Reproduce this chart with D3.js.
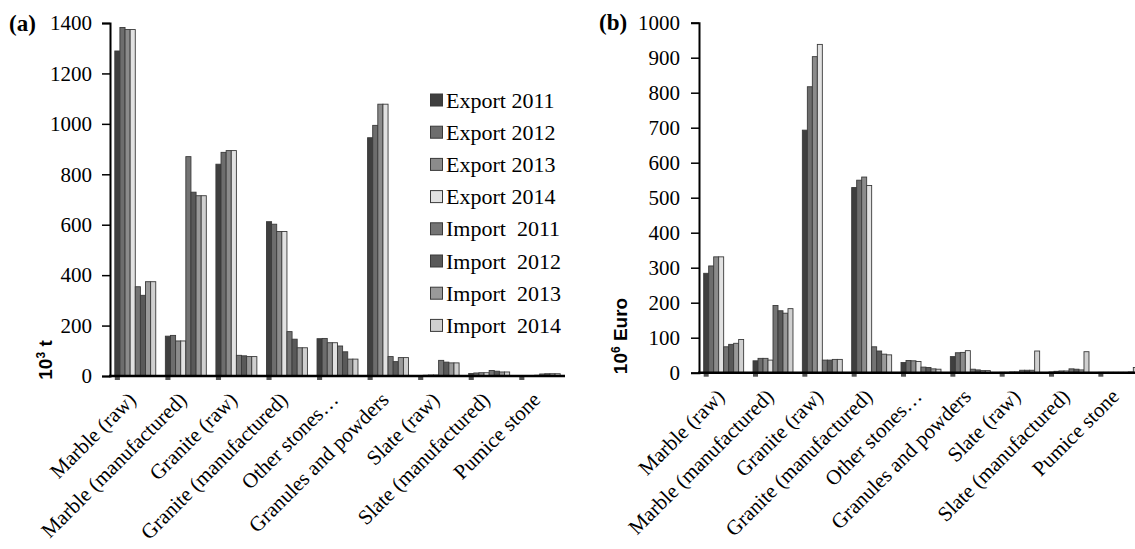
<!DOCTYPE html>
<html>
<head>
<meta charset="utf-8">
<script src="https://cdn.jsdelivr.net/npm/d3@7"></script>
<style>
  html, body { margin: 0; padding: 0; background: #fff; overflow: hidden; }
  text { font-family: "Liberation Serif", "Times New Roman", serif; fill: #000; }
</style>
</head>
<body>
<div id="container"></div>
<script>
const categories = ["Marble (raw)", "Marble (manufactured)", "Granite (raw)", "Granite (manufactured)",
    "Other stones…", "Granules and powders", "Slate (raw)", "Slate (manufactured)", "Pumice stone"];
const seriesNames = ["Export 2011", "Export 2012", "Export 2013", "Export 2014",
    "Import  2011", "Import  2012", "Import  2013", "Import  2014"];

// panel (a): 10^3 t
const export2011T = [1289, 158, 840, 612, 148, 945, 2, 10, 2];
const export2012T = [1382, 161, 887, 602, 149, 994, 3, 12, 2];
const export2013T = [1374, 139, 894, 573, 132, 1078, 4, 13, 2];
const export2014T = [1374, 139, 894, 573, 132, 1078, 4, 13, 3];
const import2011T = [354, 870, 82, 176, 119, 77, 62, 22, 8];
const import2012T = [320, 729, 80, 146, 96, 57, 55, 19, 9];
const import2013T = [374, 715, 77, 112, 67, 73, 52, 16, 9];
const import2014T = [374, 715, 77, 112, 67, 73, 52, 16, 9];
const ticksT = [0, 200, 400, 600, 800, 1000, 1200, 1400];

// panel (b): 10^6 Euro
const export2011E = [284, 34, 693, 529, 29, 46, 1, 2, 1];
const export2012E = [305, 41, 817, 550, 35, 57, 1, 4, 1];
const export2013E = [331, 41, 903, 559, 34, 58, 2, 5, 1];
const export2014E = [331, 36, 938, 535, 32, 63, 2, 5, 1];
const import2011E = [74, 192, 36, 74, 16, 10, 7, 11, 1];
const import2012E = [81, 177, 36, 62, 15, 8, 7, 10, 1];
const import2013E = [84, 170, 38, 53, 11, 6, 7, 8, 2];
const import2014E = [95, 183, 38, 51, 10, 6, 62, 60, 15];
const ticksE = [0, 100, 200, 300, 400, 500, 600, 700, 800, 900, 1000];

const fills = ["#3f3f3f", "#6d6d6d", "#8b8b8b", "#e2e2e2", "#747474", "#595959", "#999999", "#d0d0d0"];

const svg = d3.select("#container")
    .append("svg")
    .attr("width", 1135)
    .attr("height", 549);

const drawPanel = (opt) => {
    const g = svg.append("g");
    const x = d3.scaleBand().domain(categories).range([opt.left, opt.right])
        .paddingInner(0.19).paddingOuter(0.095);
    const xs = d3.scaleBand().domain(seriesNames).range([0, x.bandwidth()]);
    const y = d3.scaleLinear().domain([0, opt.max]).range([opt.bottom, opt.top]);

    // little dark marks below first bar
    g.selectAll(".foot").data(categories).enter()
        .append("rect")
        .attr("x", (d) => x(d))
        .attr("y", opt.bottom)
        .attr("width", xs.bandwidth())
        .attr("height", 4)
        .attr("fill", "#555");

    opt.data.forEach((vals, i) => {
        g.selectAll(".s" + i).data(vals).enter()
            .append("rect")
            .attr("x", (d, j) => x(categories[j]) + xs(seriesNames[i]))
            .attr("y", (d) => y(d))
            .attr("width", xs.bandwidth())
            .attr("height", (d) => opt.bottom - y(d))
            .attr("fill", fills[i])
            .attr("stroke", "#3a3a3a")
            .attr("stroke-width", 0.9);
    });

    const yAxis = d3.axisLeft(y).tickValues(opt.ticks).tickFormat(d3.format("d"))
        .tickSize(8).tickPadding(opt.pad);
    const ya = g.append("g").attr("transform", "translate(" + opt.left + ",0)").call(yAxis)
        .attr("font-family", "Liberation Serif").attr("font-size", 21);
    ya.select(".domain").attr("stroke", "#000").attr("stroke-width", 2);
    ya.selectAll(".tick line").attr("stroke", "#000").attr("stroke-width", 1.5);

    g.append("line")
        .attr("x1", opt.left - 1).attr("x2", opt.right)
        .attr("y1", opt.bottom).attr("y2", opt.bottom)
        .attr("stroke", "#000").attr("stroke-width", 2.5);

    g.selectAll(".cat").data(categories).enter()
        .append("text")
        .attr("transform", (d) => "translate(" + (x(d) + x.bandwidth() / 2 + 2) + "," + (opt.bottom + 25) + ") rotate(-45)")
        .attr("text-anchor", "end")
        .style("font-size", "21px")
        .text((d) => d);

    g.append("text")
        .attr("transform", "translate(" + opt.titleX + "," + opt.titleY + ") rotate(-90)")
        .attr("text-anchor", "middle")
        .style("font-family", "Liberation Sans")
        .style("font-weight", "bold")
        .style("font-size", "19px")
        .html(opt.title);

    g.append("text")
        .attr("x", opt.tagX).attr("y", opt.tagY)
        .style("font-weight", "bold")
        .style("font-size", "23px")
        .text(opt.tag);
};

drawPanel({
    left: 110, right: 565, top: 23, bottom: 376, max: 1400, ticks: ticksT, pad: 10,
    data: [export2011T, export2012T, export2013T, export2014T, import2011T, import2012T, import2013T, import2014T],
    title: '10<tspan baseline-shift="super" font-size="12px">3</tspan> t', titleX: 52, titleY: 360,
    tag: "(a)", tagX: 9, tagY: 31
});

drawPanel({
    left: 699, right: 1143, top: 22.7, bottom: 372.7, max: 1000, ticks: ticksE, pad: 11,
    data: [export2011E, export2012E, export2013E, export2014E, import2011E, import2012E, import2013E, import2014E],
    title: '10<tspan baseline-shift="super" font-size="12px">6</tspan> Euro', titleX: 627, titleY: 336,
    tag: "(b)", tagX: 599, tagY: 30
});

// legend
const legend = svg.append("g").attr("transform", "translate(430,100)");
const rows = legend.selectAll(".row").data(seriesNames).enter()
    .append("g")
    .attr("transform", (d, i) => "translate(0," + (i * 32.2) + ")");
rows.append("rect")
    .attr("x", 0.5).attr("y", -6)
    .attr("width", 12).attr("height", 12)
    .attr("fill", (d, i) => fills[i])
    .attr("stroke", "#3a3a3a").attr("stroke-width", 1);
rows.append("text")
    .attr("x", 16).attr("y", 7.5)
    .style("font-size", "22px")
    .style("white-space", "pre")
    .text((d) => d);
</script>
</body>
</html>
